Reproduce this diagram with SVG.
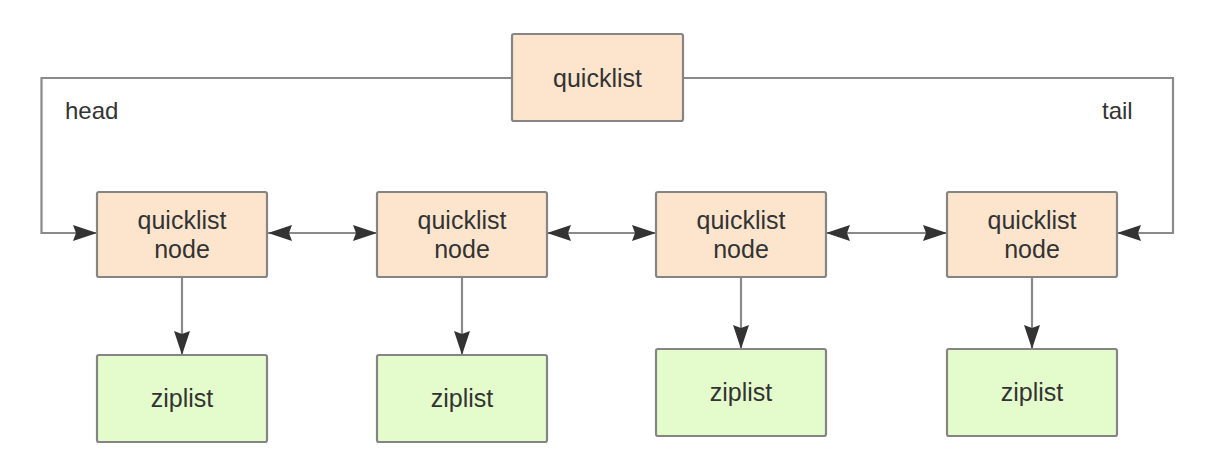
<svg xmlns="http://www.w3.org/2000/svg" width="1219" height="475" viewBox="0 0 1219 475">
<style>
.bg{fill:#ffffff}
.ql{fill:#fde5cd;stroke:#858585;stroke-width:2.2}
.zl{fill:#e4fccc;stroke:#858585;stroke-width:2.2}
.t{font-family:"Liberation Sans",Arial,sans-serif;font-size:25px;fill:#333333;text-anchor:middle}
.lbl{font-family:"Liberation Sans",Arial,sans-serif;font-size:24px;fill:#333333}
.c{fill:none;stroke:#8a8a8a;stroke-width:2.2}
</style>
<defs>
<marker id="ah" viewBox="0 0 24 16" refX="24" refY="8" markerWidth="24" markerHeight="16" markerUnits="userSpaceOnUse" orient="auto-start-reverse">
<path d="M0,0 L24,8 L0,16 L3,8 Z" fill="#333333"/>
</marker>
</defs>
<rect class="bg" x="0" y="0" width="1219" height="475"/>
<g id="connectors">
<path class="c" d="M512,78 H41.5 V233 H97" marker-end="url(#ah)"/>
<path class="c" d="M683,78 H1173 V233 H1117" marker-end="url(#ah)"/>
<path class="c" d="M268,233 H377" marker-start="url(#ah)" marker-end="url(#ah)"/>
<path class="c" d="M547,233 H656" marker-start="url(#ah)" marker-end="url(#ah)"/>
<path class="c" d="M826,233 H947" marker-start="url(#ah)" marker-end="url(#ah)"/>
<path class="c" d="M182,277 V355" marker-end="url(#ah)"/>
<path class="c" d="M462,277 V355" marker-end="url(#ah)"/>
<path class="c" d="M741,277 V349" marker-end="url(#ah)"/>
<path class="c" d="M1032,277 V349" marker-end="url(#ah)"/>
<text class="lbl" x="65" y="119">head</text>
<text class="lbl" x="1102" y="119">tail</text>
</g>
<g id="quicklist">
<rect class="ql" x="512" y="34" width="171" height="87" rx="2"/>
<text class="t" x="597.5" y="87">quicklist</text>
</g>
<g id="node1">
<rect class="ql" x="97" y="192" width="170" height="85" rx="2"/>
<text class="t" x="182" y="229">quicklist</text>
<text class="t" x="182" y="258">node</text>
</g>
<g id="node2">
<rect class="ql" x="377" y="192" width="170" height="85" rx="2"/>
<text class="t" x="462" y="229">quicklist</text>
<text class="t" x="462" y="258">node</text>
</g>
<g id="node3">
<rect class="ql" x="656" y="192" width="170" height="85" rx="2"/>
<text class="t" x="741" y="229">quicklist</text>
<text class="t" x="741" y="258">node</text>
</g>
<g id="node4">
<rect class="ql" x="947" y="192" width="170" height="85" rx="2"/>
<text class="t" x="1032" y="229">quicklist</text>
<text class="t" x="1032" y="258">node</text>
</g>
<g id="ziplist1">
<rect class="zl" x="97" y="355" width="170" height="87" rx="2"/>
<text class="t" x="182" y="407">ziplist</text>
</g>
<g id="ziplist2">
<rect class="zl" x="377" y="355" width="170" height="87" rx="2"/>
<text class="t" x="462" y="407">ziplist</text>
</g>
<g id="ziplist3">
<rect class="zl" x="656" y="349" width="170" height="87" rx="2"/>
<text class="t" x="741" y="401">ziplist</text>
</g>
<g id="ziplist4">
<rect class="zl" x="947" y="349" width="170" height="87" rx="2"/>
<text class="t" x="1032" y="401">ziplist</text>
</g>
</svg>
